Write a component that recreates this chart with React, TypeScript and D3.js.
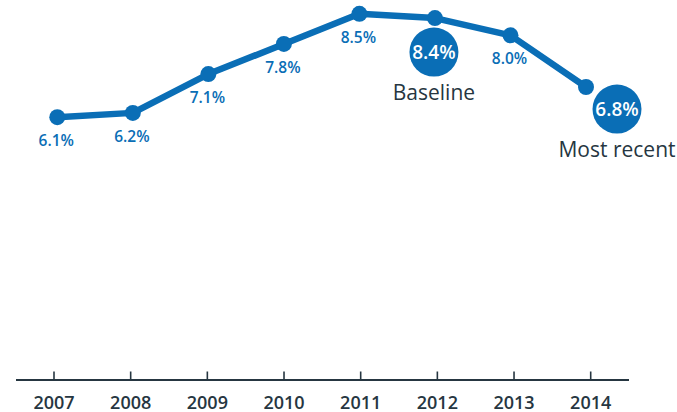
import React from "react";
import * as d3 from "d3";

const years = ["2007", "2008", "2009", "2010", "2011", "2012", "2013", "2014"];
const values = [6.1, 6.2, 7.1, 7.8, 8.5, 8.4, 8.0, 6.8];
const highlights = [
  { year: "2012", label: "Baseline", dx: -1, dy: 34 },
  { year: "2014", label: "Most recent", dx: 31, dy: 22 },
];

const W = 677;
const H = 412;
const BLUE = "#0a6eb6";
const DARK = "#263641";
const FONT = "'Open Sans', 'Noto Sans', sans-serif";

export default function App() {
  const xPts = d3.scalePoint<string>().domain(years).range([57.3, 586]);
  const xTicks = d3.scalePoint<string>().domain(years).range([54, 590.7]);
  const y = d3.scaleLinear().domain([0, 8.82]).range([380, 0]);

  const data = years.map((yr, i) => ({ yr, v: values[i] }));
  const line = d3
    .line<{ yr: string; v: number }>()
    .x((d) => xPts(d.yr) as number)
    .y((d) => y(d.v));

  const hiSet = new Set(highlights.map((h) => h.year));

  return (
    <svg
      width={W}
      height={H}
      style={{ position: "absolute", left: 0, top: 0, background: "#fff" }}
      fontFamily={FONT}
    >
      {/* axis */}
      <line x1={16} x2={629} y1={380} y2={380} stroke={DARK} strokeWidth={2} />
      {years.map((yr) => (
        <g key={yr} transform={`translate(${xTicks(yr)},0)`}>
          <line y1={371.5} y2={380} stroke={DARK} strokeWidth={1.6} />
          <text
            y={401.5}
            textAnchor="middle"
            dominantBaseline="central"
            fontSize={18}
            fontWeight={600}
            fill={DARK}
          >
            {yr}
          </text>
        </g>
      ))}

      {/* line */}
      <path d={line(data) || ""} fill="none" stroke={BLUE} strokeWidth={6.5} strokeLinejoin="round" />
      {data.map((d) => (
        <circle key={d.yr} cx={xPts(d.yr)} cy={y(d.v)} r={8} fill={BLUE} />
      ))}

      {/* value labels */}
      {data
        .filter((d) => !hiSet.has(d.yr))
        .map((d) => (
          <text
            key={d.yr}
            x={(xPts(d.yr) as number) - 1}
            y={y(d.v) + 23}
            textAnchor="middle"
            dominantBaseline="central"
            fontSize={15.5}
            fontWeight={600}
            fill={BLUE}
          >
            {d.v.toFixed(1)}%
          </text>
        ))}

      {/* highlights */}
      {highlights.map((h) => {
        const i = years.indexOf(h.year);
        const cx = (xPts(h.year) as number) + h.dx;
        const cy = y(values[i]) + h.dy;
        return (
          <g key={h.year}>
            <circle cx={cx} cy={cy} r={24.5} fill={BLUE} />
            <text
              x={cx}
              y={cy}
              textAnchor="middle"
              dominantBaseline="central"
              fontSize={19}
              fontWeight={600}
              fill="#fff"
            >
              {values[i].toFixed(1)}%
            </text>
            <text
              x={cx}
              y={cy + 40}
              textAnchor="middle"
              dominantBaseline="central"
              fontSize={21}
              fontWeight={500}
              fill={DARK}
            >
              {h.label}
            </text>
          </g>
        );
      })}
    </svg>
  );
}
